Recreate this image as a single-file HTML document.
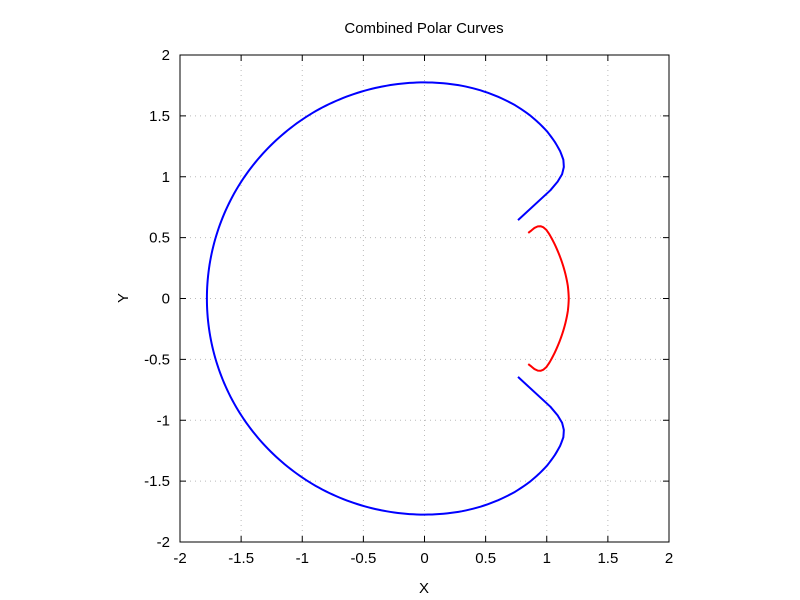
<!DOCTYPE html>
<html><head><meta charset="utf-8"><style>
body{margin:0;background:#fff;}
svg{display:block;font-family:"Liberation Sans",sans-serif;}
</style></head><body>
<svg id="chart" width="800" height="600">
<rect x="0" y="0" width="800" height="600" fill="#fff"/>
<g id="grid"></g>
<g id="curves"></g>
<rect x="180" y="55" width="489" height="487" fill="none" stroke="#000" stroke-width="1"/>
<g id="ticks"></g>
<text x="424" y="33" font-size="15" text-anchor="middle">Combined Polar Curves</text>
<text x="424" y="593" font-size="15" text-anchor="middle">X</text>
<text x="124" y="298" font-size="15" text-anchor="middle" transform="rotate(-90 124 298)" dominant-baseline="middle">Y</text>
</svg>
<script>
const xTicks=[-2,-1.5,-1,-0.5,0,0.5,1,1.5,2];
const yTicks=[-2,-1.5,-1,-0.5,0,0.5,1,1.5,2];
// upper half (degrees, radius); lower half is mirrored
const blueTheta=[40.1,40.8,41.4,42.2,43.45,45.1,47.5,50.3,53.9,57,60.3,65,70,75,80,90,100,110,120,130,140,150,160,170,180];
const blueR=[1.00,1.36,1.452,1.519,1.570,1.609,1.642,1.67,1.70,1.718,1.735,1.752,1.763,1.77,1.774,1.775,1.775,1.776,1.778,1.778,1.779,1.78,1.78,1.78,1.78];
const redTheta=[32.4,32.6,32.8,32.6,32.0,31.0,29.5,27,24,20,15,10,5,0];
const redR=[1.005,1.04,1.07,1.10,1.12,1.135,1.145,1.15,1.153,1.157,1.163,1.17,1.177,1.18];
const NS='http://www.w3.org/2000/svg';
const sx=v=>424.5+v*122.25, sy=v=>298.5-v*121.75;
const grid=document.getElementById('grid'),ticks=document.getElementById('ticks'),curves=document.getElementById('curves');
function mk(tag,at,par){const e=document.createElementNS(NS,tag);for(const k in at)e.setAttribute(k,at[k]);par.appendChild(e);return e;}
xTicks.forEach(v=>{const x=sx(v);
 if(v>-2&&v<2){const g=mk('line',{x1:x,x2:x,y1:55,y2:542,stroke:'#bbb','stroke-dasharray':'1,4'},grid);
 
 }
 mk('line',{x1:x,x2:x,y1:542,y2:536,stroke:'#000'},ticks);mk('line',{x1:x,x2:x,y1:55,y2:61,stroke:'#000'},ticks);
 const t=mk('text',{x:x,y:563,'font-size':15,'text-anchor':'middle'},ticks);t.textContent=v;
 
 });
yTicks.forEach(v=>{const y=sy(v);
 if(v>-2&&v<2){const g=mk('line',{x1:180,x2:669,y1:y,y2:y,stroke:'#bbb','stroke-dasharray':'1,4'},grid);
 
 }
 mk('line',{x1:180,x2:186,y1:y,y2:y,stroke:'#000'},ticks);mk('line',{x1:669,x2:663,y1:y,y2:y,stroke:'#000'},ticks);
 const t=mk('text',{x:170,y:y+5,'font-size':15,'text-anchor':'end'},ticks);t.textContent=v;
 
 });
function polarPath(th,rr){
 const pts=[];
 for(let i=0;i<th.length;i++){
  if(i===0){pts.push([th[0],rr[0]]);continue;}
  const n=Math.max(1,Math.ceil(Math.abs(th[i]-th[i-1])/1));
  for(let k=1;k<=n;k++){const f=k/n;pts.push([th[i-1]+(th[i]-th[i-1])*f,rr[i-1]+(rr[i]-rr[i-1])*f]);}
 }
 const xy=pts.map(p=>[p[1]*Math.cos(p[0]*Math.PI/180),p[1]*Math.sin(p[0]*Math.PI/180)]);
 const full=xy.concat(xy.slice(0,-1).reverse().map(p=>[p[0],-p[1]]));
 return 'M'+full.map(p=>sx(p[0]).toFixed(2)+','+sy(p[1]).toFixed(2)).join(' L');}
const b=mk('path',{d:polarPath(blueTheta,blueR),fill:'none',stroke:'#0000ff','stroke-width':2,'stroke-linejoin':'round'},curves);


const r=mk('path',{d:polarPath(redTheta,redR),fill:'none',stroke:'#ff0000','stroke-width':2,'stroke-linejoin':'round'},curves);


</script>
</body></html>
